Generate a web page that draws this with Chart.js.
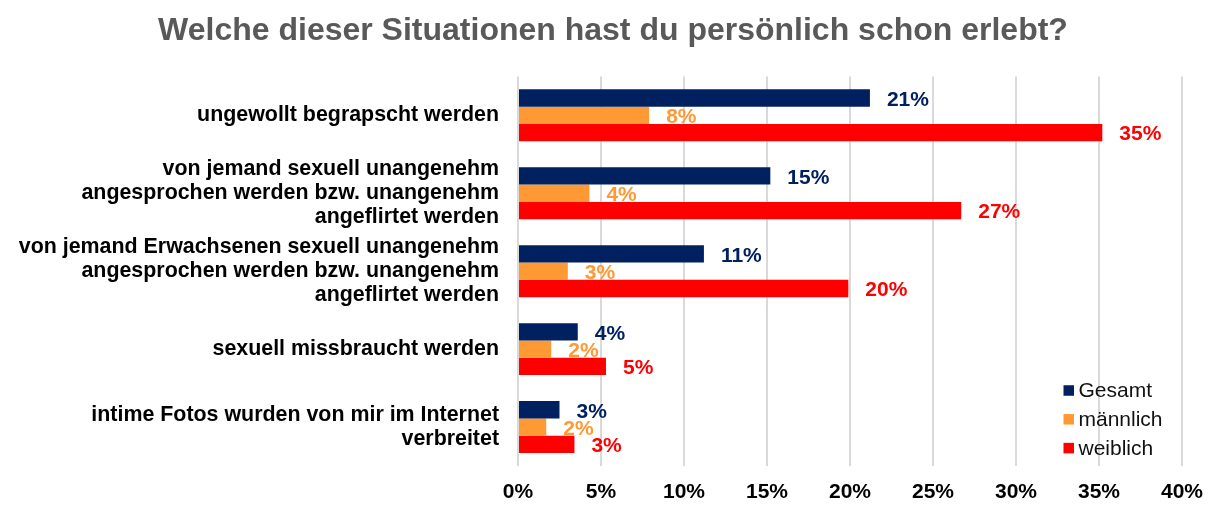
<!DOCTYPE html>
<html>
<head>
<meta charset="utf-8">
<script src="https://cdn.jsdelivr.net/npm/chart.js@4.4.1/dist/chart.umd.min.js"></script>
<style>
  html, body { margin: 0; padding: 0; background: #ffffff; }
  #wrap { width: 1222px; height: 508px; }
</style>
</head>
<body>
<div id="wrap"><canvas id="c" width="1222" height="508"></canvas></div>
<script>
const categories = [
  ['ungewollt begrapscht werden'],
  ['von jemand sexuell unangenehm', 'angesprochen werden bzw. unangenehm', 'angeflirtet werden'],
  ['von jemand Erwachsenen sexuell unangenehm', 'angesprochen werden bzw. unangenehm', 'angeflirtet werden'],
  ['sexuell missbraucht werden'],
  ['intime Fotos wurden von mir im Internet', 'verbreitet']
];
const seriesNames = ['Gesamt', 'männlich', 'weiblich'];
const gesamt    = [21.2, 15.2, 11.2, 3.6, 2.5];
const maennlich = [7.9, 4.3, 3.0, 2.0, 1.7];
const weiblich  = [35.2, 26.7, 19.9, 5.3, 3.4];
const xTicks = [0, 5, 10, 15, 20, 25, 30, 35, 40];
const colors = ['#002060', '#FF9933', '#FF0000'];

const FONT = "'Liberation Sans', Arial, Helvetica, sans-serif";

const centerTitle = {
  id: 'centerTitle',
  afterLayout(chart) {
    const t = chart.titleBlock;
    if (t) { t.left = 4; t.right = chart.width; t.width = chart.width - 4; }
  }
};

const valueLabels = {
  id: 'valueLabels',
  afterDatasetsDraw(chart) {
    const ctx = chart.ctx;
    ctx.save();
    ctx.font = 'bold 21px ' + FONT;
    ctx.textAlign = 'left';
    ctx.textBaseline = 'middle';
    chart.data.datasets.forEach((ds, i) => {
      const meta = chart.getDatasetMeta(i);
      ctx.fillStyle = ds.backgroundColor;
      meta.data.forEach((el, j) => {
        const v = ds.data[j];
        ctx.fillText(Math.round(v) + '%', el.x + 17, el.y + 2);
      });
    });
    ctx.restore();
  }
};

const innerLegend = {
  id: 'innerLegend',
  afterDraw(chart) {
    const ctx = chart.ctx;
    const a = chart.chartArea;
    ctx.save();
    ctx.font = '21px ' + FONT;
    ctx.textAlign = 'left';
    ctx.textBaseline = 'middle';
    chart.data.datasets.forEach((ds, i) => {
      const y = a.bottom - 75.5 + i * 28.8;
      const x = a.right - 118.5;
      ctx.fillStyle = ds.backgroundColor;
      ctx.fillRect(x, y - 5.25, 10.5, 10.5);
      ctx.fillStyle = '#111111';
      ctx.fillText(ds.label, x + 15, y + 1);
    });
    ctx.restore();
  }
};

new Chart(document.getElementById('c'), {
  type: 'bar',
  data: {
    labels: categories,
    datasets: [
      { label: seriesNames[0], data: gesamt, backgroundColor: colors[0] },
      { label: seriesNames[1], data: maennlich, backgroundColor: colors[1] },
      { label: seriesNames[2], data: weiblich, backgroundColor: colors[2] }
    ]
  },
  options: {
    indexAxis: 'y',
    responsive: false,
    animation: false,
    devicePixelRatio: 1,
    categoryPercentage: 0.667,
    barPercentage: 1.0,
    layout: { padding: { left: 0, right: 40, top: 0, bottom: 0 } },
    plugins: {
      legend: { display: false },
      tooltip: { enabled: false },
      title: {
        display: true,
        text: 'Welche dieser Situationen hast du persönlich schon erlebt?',
        color: '#595959',
        font: { family: FONT, size: 32, weight: 'bold' },
        padding: { top: 12, bottom: 26 }
      }
    },
    scales: {
      x: {
        type: 'linear',
        min: 0,
        max: 40,
        afterBuildTicks(scale) { scale.ticks = xTicks.map(v => ({ value: v })); },
        afterFit(scale) { scale.height = 42; },
        ticks: {
          padding: 14,
          color: '#000000',
          font: { family: FONT, size: 21, weight: 'bold' },
          callback: v => v + '%'
        },
        grid: { color: '#D9D9D9', lineWidth: 2, drawTicks: false },
        border: { display: false }
      },
      y: {
        afterFit(scale) { scale.width = 518; },
        ticks: {
          padding: 19,
          color: '#000000',
          font: { family: FONT, size: 21.4, weight: 'bold', lineHeight: 1.12 },
          align: 'center',
          crossAlign: 'near'
        },
        grid: { display: false, drawTicks: false },
        border: { display: false }
      }
    }
  },
  plugins: [centerTitle, valueLabels, innerLegend]
});
</script>
</body>
</html>
